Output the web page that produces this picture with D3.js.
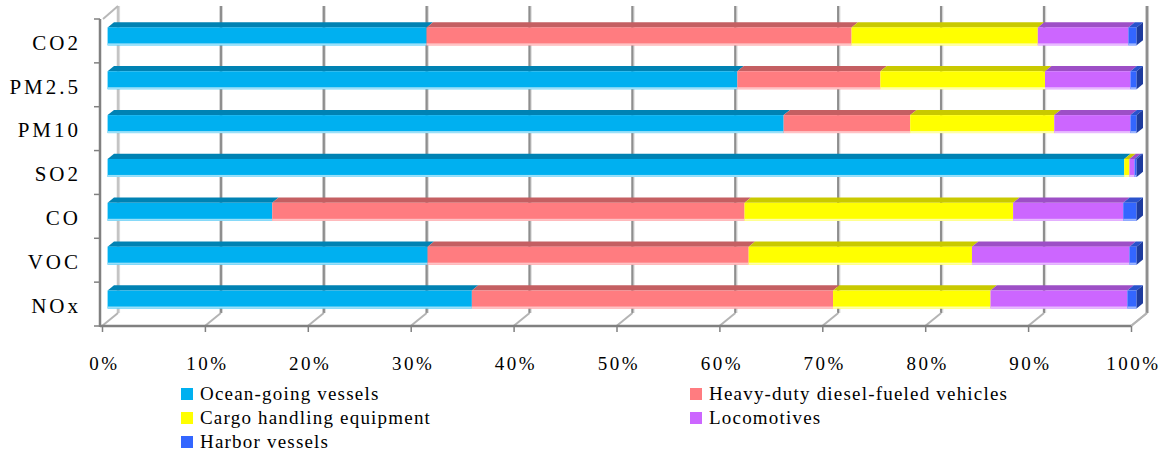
<!DOCTYPE html>
<html>
<head>
<meta charset="utf-8">
<script src="https://cdn.jsdelivr.net/npm/d3@7"></script>
<style>
  body { margin: 0; background: #fff; }
  svg text { font-family: "Liberation Serif", "DejaVu Serif", "Times New Roman", serif; }
</style>
</head>
<body>
<div id="chart"></div>
<script>
const categories = ["CO2", "PM2.5", "PM10", "SO2", "CO", "VOC", "NOx"];
const seriesNames = [
  "Ocean-going vessels",
  "Heavy-duty diesel-fueled vehicles",
  "Cargo handling equipment",
  "Locomotives",
  "Harbor vessels"
];

// shares in percent
const oceanGoing = [31.0, 61.2, 65.7, 98.8, 16.0, 31.1, 35.4];
const heavyDuty = [41.3, 13.9, 12.3, 0.0, 45.9, 31.2, 35.1];
const cargoHandling = [18.1, 16.0, 14.0, 0.5, 26.1, 21.7, 15.3];
const locomotives = [8.8, 8.3, 7.4, 0.5, 10.7, 15.3, 13.3];
const harborVessels = [0.8, 0.6, 0.6, 0.2, 1.3, 0.7, 0.9];
const tickValues = [0, 0.1, 0.2, 0.3, 0.4, 0.5, 0.6, 0.7, 0.8, 0.9, 1];

const seriesValues = [oceanGoing, heavyDuty, cargoHandling, locomotives, harborVessels];
const faceColors = ["#00B0F0", "#FF7C80", "#FFFF00", "#CC66FF", "#3366FF"];
const topColors = ["#0082B3", "#C45F62", "#C9C900", "#9D4FC6", "#2A52CC"];
const edgeColors = ["#9BE0F9", "#FFC3C5", "#FFFFA8", "#E8BBFF", "#9DB5FF"];
const sideColor = "#1F3C9E";
const serif = "'Liberation Serif', 'DejaVu Serif', serif";

const width = 1171;
const height = 453;

const svg = d3.select("#chart").append("svg").attr("width", width).attr("height", height);

// 3D box: front plane and depth offset
const depth = [16, -13];
const x = d3.scaleLinear().domain([0, 1]).range([102, 1131]);
const y = d3.scaleBand().domain(categories).range([19, 326]).paddingInner(0.59).paddingOuter(0.295);
const yFloor = 326;
const yTop = 19;

// stacked rows, normalised to 100%
const rows = categories.map((c, i) => {
  const vals = seriesValues.map((s) => s[i]);
  const total = d3.sum(vals);
  const obj = { category: c };
  seriesNames.forEach((n, k) => (obj[n] = vals[k] / total));
  return obj;
});
const stacked = d3.stack().keys(seriesNames)(rows);

// back wall gridlines and floor diagonals
const grid = svg.append("g");
tickValues.forEach((t) => {
  const bx = x(t) + depth[0];
  grid.append("line")
    .attr("x1", bx).attr("x2", bx)
    .attr("y1", yTop + depth[1]).attr("y2", yFloor + depth[1])
    .attr("stroke", t === 0 ? "#c4c4c4" : "#8e8e8e").attr("stroke-width", 2.5);
  grid.append("line")
    .attr("x1", bx + 1.6).attr("x2", bx + 1.6)
    .attr("y1", yTop + depth[1]).attr("y2", yFloor + depth[1])
    .attr("stroke", "#d8d8d8").attr("stroke-width", 1);
  grid.append("line")
    .attr("x1", bx).attr("y1", yFloor + depth[1])
    .attr("x2", x(t)).attr("y2", yFloor)
    .attr("stroke", "#b4b4b4").attr("stroke-width", 2);
});

// top-left diagonal of the side wall
svg.append("line")
  .attr("x1", x(0) + 1).attr("y1", yTop)
  .attr("x2", x(0) + depth[0]).attr("y2", yTop + depth[1])
  .attr("stroke", "#b8b8b8").attr("stroke-width", 2);

// bars
const d0 = 0.35;
const d1 = 0.75;
const bars = svg.append("g");
const poly = (pts) => pts.map((p) => p.join(",")).join(" ");

stacked.forEach((layer, k) => {
  layer.forEach((seg) => {
    const cat = seg.data.category;
    const w = seg[1] - seg[0];
    if (w <= 0) return;
    const xa = x(seg[0]) + depth[0] * d0;
    const xb = x(seg[1]) + depth[0] * d0;
    const yt = y(cat) + depth[1] * d0;
    const h = y.bandwidth();
    const ox = depth[0] * (d1 - d0);
    const oy = depth[1] * (d1 - d0);

    // top face
    bars.append("polygon")
      .attr("points", poly([[xa, yt], [xa + ox, yt + oy], [xb + ox, yt + oy], [xb, yt]]))
      .attr("fill", topColors[k]);
    // front face
    bars.append("rect")
      .attr("x", xa).attr("y", yt)
      .attr("width", xb - xa).attr("height", h)
      .attr("fill", faceColors[k]);
    bars.append("rect")
      .attr("x", xa).attr("y", yt + h - 2)
      .attr("width", xb - xa).attr("height", 2)
      .attr("fill", edgeColors[k]);
    // end face on the right of the last segment
    if (seg[1] >= 0.9999) {
      bars.append("polygon")
        .attr("points", poly([[xb, yt], [xb + ox, yt + oy], [xb + ox, yt + oy + h], [xb, yt + h]]))
        .attr("fill", sideColor);
    }
  });
});

// right wall edge
svg.append("line")
  .attr("x1", x(1) + depth[0]).attr("x2", x(1) + depth[0])
  .attr("y1", yTop + depth[1]).attr("y2", yFloor + depth[1])
  .attr("stroke", "#8e8e8e").attr("stroke-width", 2.5);
svg.append("line")
  .attr("x1", x(1)).attr("y1", yFloor)
  .attr("x2", x(1) + depth[0]).attr("y2", yFloor + depth[1])
  .attr("stroke", "#b4b4b4").attr("stroke-width", 2);

// bottom axis
const xAxis = svg.append("g")
  .attr("transform", `translate(0,${yFloor})`)
  .call(d3.axisBottom(x).tickValues(tickValues).tickFormat(d3.format(".0%")).tickSize(6).tickSizeOuter(0))
  .attr("font-family", serif);
xAxis.select(".domain").attr("stroke", "#808080").attr("stroke-width", 2.5).attr("d", `M${x(0) - 2},0H${x(1)}`);
xAxis.selectAll(".tick line").attr("stroke", "#808080").attr("stroke-width", 1.5);
xAxis.selectAll(".tick text")
  .attr("y", 44).attr("dy", null)
  .attr("dx", "0.1em")
  .attr("fill", "#000")
  .attr("font-family", serif)
  .style("font-size", "19px")
  .style("letter-spacing", "2.5px");

// left axis
const yAxis = svg.append("g")
  .attr("transform", `translate(${x(0) - 2},0)`)
  .call(d3.axisLeft(y).tickSize(0).tickPadding(19))
  .attr("font-family", serif);
yAxis.select(".domain").attr("stroke", "#808080").attr("stroke-width", 2.5).attr("d", `M0,${yTop}V${yFloor + 1}`);
yAxis.selectAll(".tick text")
  .attr("dy", "0.42em")
  .attr("fill", "#000")
  .attr("font-family", serif)
  .style("font-size", "21px")
  .style("letter-spacing", "3px");
const bandEdges = categories.map((c) => y(c) - (y.step() - y.bandwidth()) / 2).concat([yFloor]);
yAxis.selectAll(".edge")
  .data(bandEdges)
  .join("line")
  .attr("x1", -6).attr("x2", 0)
  .attr("y1", (d) => d).attr("y2", (d) => d)
  .attr("stroke", "#808080").attr("stroke-width", 1.5);

// legend
const legendX = [181, 690];
const legendY = [394, 418, 442];
const legend = svg.append("g");
seriesNames.forEach((name, i) => {
  const lx = legendX[i % 2];
  const ly = legendY[Math.floor(i / 2)];
  legend.append("rect")
    .attr("x", lx).attr("y", ly - 6)
    .attr("width", 12).attr("height", 12)
    .attr("fill", faceColors[i]);
  legend.append("text")
    .attr("x", lx + 19).attr("y", ly + 6)
    .attr("fill", "#000")
    .attr("font-family", serif)
    .style("font-size", "19px")
    .style("letter-spacing", "1.2px")
    .text(name);
});
</script>
</body>
</html>
